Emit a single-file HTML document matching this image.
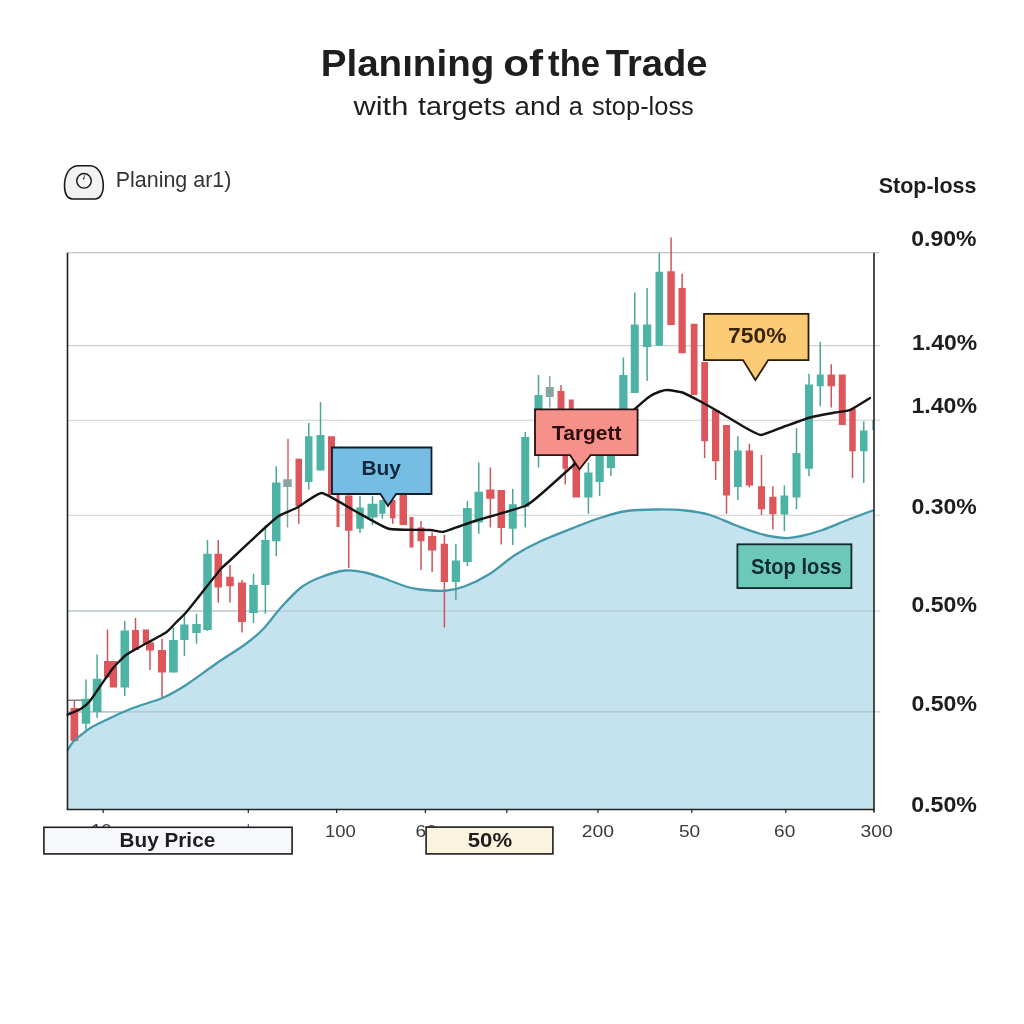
<!DOCTYPE html>
<html lang="en"><head><meta charset="utf-8"><title>Planning of the Trade</title>
<style>html,body{margin:0;padding:0;background:#fff}body{width:1024px;height:1024px;overflow:hidden;font-family:"Liberation Sans",sans-serif}svg{display:block}text{font-family:"Liberation Sans",sans-serif}</style></head><body>
<svg width="1024" height="1024" viewBox="0 0 1024 1024">
<rect width="1024" height="1024" fill="#ffffff"/>
<!-- title -->
<text y="75.7" font-size="37.3" font-weight="700" fill="#1e1e1e"><tspan x="320.71" textLength="173.55" lengthAdjust="spacingAndGlyphs">Planıning</tspan> <tspan x="503.34" textLength="39.78" lengthAdjust="spacingAndGlyphs">of</tspan> <tspan x="548.08" textLength="52.10" lengthAdjust="spacingAndGlyphs">the</tspan> <tspan x="605.73" textLength="101.84" lengthAdjust="spacingAndGlyphs">Trade</tspan></text>
<text y="114.8" font-size="26.6" fill="#1e1e1e"><tspan x="353.47" textLength="54.88" lengthAdjust="spacingAndGlyphs">with</tspan> <tspan x="417.95" textLength="88.07" lengthAdjust="spacingAndGlyphs">targets</tspan> <tspan x="514.60" textLength="46.31" lengthAdjust="spacingAndGlyphs">and</tspan> <tspan x="568.73" textLength="13.99" lengthAdjust="spacingAndGlyphs">a</tspan> <tspan x="592.10" textLength="101.75" lengthAdjust="spacingAndGlyphs">stop-loss</tspan></text>
<!-- legend -->
<path d="M72.5,199 C67,198.5 64.6,193 64.5,186 C64.4,176 68.5,166.2 78,165.7 L90.5,165.7 C99,166.5 103.3,176 103.3,186 C103.3,193 100.5,198.5 95.5,199 Z" fill="#f3f3f5" stroke="#1a1a1a" stroke-width="1.6"/>
<circle cx="84" cy="180.8" r="7.3" fill="#f7f7f8" stroke="#1a1a1a" stroke-width="1.45"/>
<line x1="83.5" y1="179" x2="84.8" y2="175.2" stroke="#1a1a1a" stroke-width="0.8"/>
<circle cx="83.6" cy="178.8" r="0.8" fill="#1a1a1a"/>
<text x="115.75" y="187.0" font-size="22.1" fill="#333333" textLength="115.60" lengthAdjust="spacingAndGlyphs">Planing ar1)</text>
<!-- gridlines -->
<line x1="67.5" y1="345.6" x2="880.0" y2="345.6" stroke="#cfcfcf" stroke-width="1.1"/>
<line x1="67.5" y1="420.2" x2="880.0" y2="420.2" stroke="#cfcfcf" stroke-width="1.1"/>
<line x1="67.5" y1="515.2" x2="880.0" y2="515.2" stroke="#cfcfcf" stroke-width="1.1"/>
<line x1="67.5" y1="611.0" x2="880.0" y2="611.0" stroke="#cfcfcf" stroke-width="1.1"/>
<line x1="67.5" y1="711.9" x2="880.0" y2="711.9" stroke="#cfcfcf" stroke-width="1.1"/>
<line x1="67.5" y1="252.7" x2="879.0" y2="252.7" stroke="#c4c4c4" stroke-width="1.2"/>
<line x1="67.7" y1="700.2" x2="82.4" y2="700.2" stroke="#555" stroke-width="1.1"/>
<!-- area -->
<path d="M67.25,750.50 C68.21,749.08 70.71,744.58 73.00,742.00 C75.29,739.42 77.83,737.50 81.00,735.00 C84.17,732.50 87.83,729.50 92.00,727.00 C96.17,724.50 99.50,723.04 106.00,720.00 C112.50,716.96 121.42,712.50 131.00,708.75 C140.58,705.00 154.33,701.46 163.50,697.50 C172.67,693.54 177.25,690.62 186.00,685.00 C194.75,679.38 206.00,670.62 216.00,663.75 C226.00,656.88 238.08,649.58 246.00,643.75 C253.92,637.92 257.67,634.79 263.50,628.75 C269.33,622.71 274.75,614.38 281.00,607.50 C287.25,600.62 294.50,592.50 301.00,587.50 C307.50,582.50 312.67,580.33 320.00,577.50 C327.33,574.67 337.50,571.33 345.00,570.50 C352.50,569.67 358.33,571.12 365.00,572.50 C371.67,573.88 378.33,576.46 385.00,578.75 C391.67,581.04 399.17,584.46 405.00,586.25 C410.83,588.04 413.33,588.75 420.00,589.50 C426.67,590.25 437.50,591.29 445.00,590.75 C452.50,590.21 457.50,589.08 465.00,586.25 C472.50,583.42 481.67,578.96 490.00,573.75 C498.33,568.54 506.67,560.38 515.00,555.00 C523.33,549.62 529.58,546.29 540.00,541.50 C550.42,536.71 567.50,530.17 577.50,526.25 C587.50,522.33 592.08,520.50 600.00,518.00 C607.92,515.50 615.67,512.67 625.00,511.25 C634.33,509.83 646.00,509.62 656.00,509.50 C666.00,509.38 676.00,509.58 685.00,510.50 C694.00,511.42 701.67,512.58 710.00,515.00 C718.33,517.42 726.67,521.88 735.00,525.00 C743.33,528.12 751.83,531.58 760.00,533.75 C768.17,535.92 777.33,537.58 784.00,538.00 C790.67,538.42 793.58,537.58 800.00,536.25 C806.42,534.92 814.58,532.71 822.50,530.00 C830.42,527.29 838.92,523.33 847.50,520.00 C856.08,516.67 869.58,511.67 874.00,510.00 L874.0,809.5 L67.5,809.5 Z" fill="#c4e3ee"/>
<line x1="67.5" y1="611.0" x2="874.0" y2="611.0" stroke="#a9c3cb" stroke-width="1.1"/>
<line x1="67.5" y1="711.9" x2="874.0" y2="711.9" stroke="#a9c3cb" stroke-width="1.1"/>
<!-- candles -->
<line x1="74.35" y1="701.00" x2="74.35" y2="742.00" stroke="#c9565c" stroke-width="1.5"/>
<rect x="70.50" y="708.00" width="7.70" height="33.00" fill="#dc565c"/>
<line x1="86.00" y1="679.50" x2="86.00" y2="732.50" stroke="#4aa797" stroke-width="1.5"/>
<rect x="81.75" y="698.75" width="8.50" height="25.00" fill="#4db3a4"/>
<line x1="97.12" y1="654.50" x2="97.12" y2="718.00" stroke="#4aa797" stroke-width="1.5"/>
<rect x="92.75" y="678.75" width="8.75" height="33.25" fill="#4db3a4"/>
<line x1="107.50" y1="629.50" x2="107.50" y2="677.50" stroke="#c9565c" stroke-width="1.5"/>
<rect x="104.00" y="661.00" width="7.00" height="16.50" fill="#dc565c"/>
<rect x="109.75" y="661.00" width="7.25" height="26.50" fill="#dc565c"/>
<line x1="124.75" y1="621.00" x2="124.75" y2="696.00" stroke="#4aa797" stroke-width="1.5"/>
<rect x="120.50" y="630.50" width="8.50" height="57.00" fill="#4db3a4"/>
<line x1="135.50" y1="618.00" x2="135.50" y2="650.00" stroke="#c9565c" stroke-width="1.5"/>
<rect x="132.00" y="630.00" width="7.00" height="20.00" fill="#dc565c"/>
<rect x="142.75" y="629.50" width="6.25" height="14.25" fill="#dc565c"/>
<line x1="150.00" y1="642.50" x2="150.00" y2="670.00" stroke="#c9565c" stroke-width="1.5"/>
<rect x="146.00" y="642.50" width="8.00" height="8.00" fill="#dc565c"/>
<line x1="162.00" y1="638.75" x2="162.00" y2="697.00" stroke="#c9565c" stroke-width="1.5"/>
<rect x="158.00" y="650.00" width="8.00" height="22.50" fill="#dc565c"/>
<line x1="173.38" y1="627.50" x2="173.38" y2="672.50" stroke="#4aa797" stroke-width="1.5"/>
<rect x="169.00" y="640.00" width="8.75" height="32.50" fill="#4db3a4"/>
<line x1="184.38" y1="613.75" x2="184.38" y2="656.00" stroke="#4aa797" stroke-width="1.5"/>
<rect x="180.25" y="624.50" width="8.25" height="15.50" fill="#4db3a4"/>
<line x1="196.50" y1="613.75" x2="196.50" y2="643.75" stroke="#4aa797" stroke-width="1.5"/>
<rect x="192.25" y="624.00" width="8.50" height="9.00" fill="#4db3a4"/>
<line x1="207.50" y1="540.00" x2="207.50" y2="631.00" stroke="#4aa797" stroke-width="1.5"/>
<rect x="203.25" y="553.75" width="8.50" height="76.25" fill="#4db3a4"/>
<line x1="218.25" y1="540.00" x2="218.25" y2="602.50" stroke="#c9565c" stroke-width="1.5"/>
<rect x="214.50" y="553.75" width="7.50" height="33.75" fill="#dc565c"/>
<line x1="230.00" y1="565.00" x2="230.00" y2="602.50" stroke="#c9565c" stroke-width="1.5"/>
<rect x="226.25" y="576.75" width="7.50" height="9.50" fill="#dc565c"/>
<line x1="242.00" y1="580.00" x2="242.00" y2="632.50" stroke="#c9565c" stroke-width="1.5"/>
<rect x="238.00" y="582.50" width="8.00" height="39.50" fill="#dc565c"/>
<line x1="253.50" y1="573.75" x2="253.50" y2="623.00" stroke="#4aa797" stroke-width="1.5"/>
<rect x="249.25" y="585.00" width="8.50" height="28.00" fill="#4db3a4"/>
<line x1="265.38" y1="525.00" x2="265.38" y2="613.75" stroke="#4aa797" stroke-width="1.5"/>
<rect x="261.25" y="540.00" width="8.25" height="45.00" fill="#4db3a4"/>
<line x1="276.25" y1="466.25" x2="276.25" y2="556.25" stroke="#4aa797" stroke-width="1.5"/>
<rect x="272.00" y="482.50" width="8.50" height="58.75" fill="#4db3a4"/>
<line x1="287.50" y1="479.25" x2="287.50" y2="527.50" stroke="#8aa3a3" stroke-width="1.5"/>
<rect x="283.25" y="479.25" width="8.50" height="7.75" fill="#8aa3a3"/>
<rect x="287.30" y="438.75" width="1.40" height="40.50" fill="#dc565c"/>
<line x1="298.75" y1="458.75" x2="298.75" y2="523.75" stroke="#c9565c" stroke-width="1.5"/>
<rect x="295.50" y="458.75" width="6.50" height="47.50" fill="#dc565c"/>
<line x1="308.75" y1="423.00" x2="308.75" y2="489.50" stroke="#4aa797" stroke-width="1.5"/>
<rect x="305.00" y="436.25" width="7.50" height="45.75" fill="#4db3a4"/>
<line x1="320.50" y1="402.00" x2="320.50" y2="470.50" stroke="#4aa797" stroke-width="1.5"/>
<rect x="316.50" y="435.00" width="8.00" height="35.50" fill="#4db3a4"/>
<rect x="328.00" y="436.25" width="7.00" height="58.75" fill="#dc565c"/>
<rect x="336.50" y="495.00" width="3.00" height="32.00" fill="#dc565c"/>
<line x1="348.75" y1="495.50" x2="348.75" y2="568.00" stroke="#c9565c" stroke-width="1.5"/>
<rect x="345.00" y="495.50" width="7.50" height="35.25" fill="#dc565c"/>
<line x1="360.00" y1="496.00" x2="360.00" y2="533.00" stroke="#4aa797" stroke-width="1.5"/>
<rect x="356.25" y="507.50" width="7.50" height="21.25" fill="#4db3a4"/>
<line x1="372.50" y1="496.00" x2="372.50" y2="525.00" stroke="#4aa797" stroke-width="1.5"/>
<rect x="367.50" y="503.75" width="10.00" height="13.75" fill="#4db3a4"/>
<line x1="382.38" y1="500.00" x2="382.38" y2="518.75" stroke="#4aa797" stroke-width="1.5"/>
<rect x="379.25" y="500.00" width="6.25" height="13.75" fill="#4db3a4"/>
<line x1="392.75" y1="500.00" x2="392.75" y2="523.75" stroke="#c9565c" stroke-width="1.5"/>
<rect x="390.00" y="500.00" width="5.50" height="18.25" fill="#dc565c"/>
<rect x="399.50" y="495.00" width="7.50" height="30.00" fill="#dc565c"/>
<rect x="409.50" y="517.00" width="4.00" height="30.50" fill="#dc565c"/>
<line x1="421.00" y1="521.00" x2="421.00" y2="570.00" stroke="#c9565c" stroke-width="1.5"/>
<rect x="417.50" y="527.50" width="7.00" height="13.75" fill="#dc565c"/>
<line x1="432.12" y1="532.50" x2="432.12" y2="572.00" stroke="#c9565c" stroke-width="1.5"/>
<rect x="428.00" y="536.00" width="8.25" height="14.50" fill="#dc565c"/>
<line x1="444.38" y1="535.00" x2="444.38" y2="627.50" stroke="#c9565c" stroke-width="1.5"/>
<rect x="440.75" y="543.75" width="7.25" height="38.25" fill="#dc565c"/>
<line x1="455.88" y1="543.75" x2="455.88" y2="600.00" stroke="#4aa797" stroke-width="1.5"/>
<rect x="451.75" y="560.50" width="8.25" height="21.50" fill="#4db3a4"/>
<line x1="467.38" y1="501.00" x2="467.38" y2="566.00" stroke="#4aa797" stroke-width="1.5"/>
<rect x="463.00" y="508.00" width="8.75" height="54.00" fill="#4db3a4"/>
<line x1="478.75" y1="462.50" x2="478.75" y2="533.75" stroke="#4aa797" stroke-width="1.5"/>
<rect x="474.50" y="491.75" width="8.50" height="30.75" fill="#4db3a4"/>
<line x1="490.38" y1="467.50" x2="490.38" y2="527.50" stroke="#c9565c" stroke-width="1.5"/>
<rect x="486.25" y="489.50" width="8.25" height="9.25" fill="#dc565c"/>
<line x1="501.25" y1="490.00" x2="501.25" y2="544.50" stroke="#c9565c" stroke-width="1.5"/>
<rect x="497.50" y="490.00" width="7.50" height="38.00" fill="#dc565c"/>
<line x1="512.75" y1="488.75" x2="512.75" y2="545.00" stroke="#4aa797" stroke-width="1.5"/>
<rect x="508.75" y="504.25" width="8.00" height="24.50" fill="#4db3a4"/>
<line x1="525.25" y1="432.00" x2="525.25" y2="527.50" stroke="#4aa797" stroke-width="1.5"/>
<rect x="521.25" y="437.00" width="8.00" height="70.00" fill="#4db3a4"/>
<line x1="538.50" y1="375.00" x2="538.50" y2="467.50" stroke="#4aa797" stroke-width="1.5"/>
<rect x="534.50" y="395.00" width="8.00" height="60.00" fill="#4db3a4"/>
<line x1="549.75" y1="376.00" x2="549.75" y2="407.50" stroke="#8aa3a3" stroke-width="1.5"/>
<rect x="545.75" y="387.00" width="8.00" height="10.00" fill="#8aa3a3"/>
<line x1="561.00" y1="385.00" x2="561.00" y2="409.00" stroke="#c9565c" stroke-width="1.5"/>
<rect x="557.50" y="391.00" width="7.00" height="18.00" fill="#dc565c"/>
<rect x="568.75" y="399.50" width="5.00" height="9.50" fill="#dc565c"/>
<line x1="565.25" y1="455.00" x2="565.25" y2="484.50" stroke="#c9565c" stroke-width="1.5"/>
<rect x="562.50" y="455.00" width="5.50" height="13.75" fill="#dc565c"/>
<rect x="572.50" y="455.00" width="7.50" height="42.50" fill="#dc565c"/>
<line x1="588.38" y1="462.50" x2="588.38" y2="513.75" stroke="#4aa797" stroke-width="1.5"/>
<rect x="584.25" y="472.50" width="8.25" height="25.00" fill="#4db3a4"/>
<line x1="599.62" y1="455.00" x2="599.62" y2="496.00" stroke="#4aa797" stroke-width="1.5"/>
<rect x="595.50" y="455.00" width="8.25" height="27.00" fill="#4db3a4"/>
<line x1="610.88" y1="455.00" x2="610.88" y2="476.00" stroke="#4aa797" stroke-width="1.5"/>
<rect x="606.75" y="455.00" width="8.25" height="13.00" fill="#4db3a4"/>
<line x1="623.38" y1="357.50" x2="623.38" y2="409.00" stroke="#4aa797" stroke-width="1.5"/>
<rect x="619.25" y="375.00" width="8.25" height="34.00" fill="#4db3a4"/>
<line x1="634.75" y1="292.50" x2="634.75" y2="393.00" stroke="#4aa797" stroke-width="1.5"/>
<rect x="630.75" y="324.50" width="8.00" height="68.50" fill="#4db3a4"/>
<line x1="647.12" y1="288.00" x2="647.12" y2="381.00" stroke="#4aa797" stroke-width="1.5"/>
<rect x="643.00" y="324.50" width="8.25" height="22.50" fill="#4db3a4"/>
<line x1="659.25" y1="253.00" x2="659.25" y2="345.75" stroke="#4aa797" stroke-width="1.5"/>
<rect x="655.50" y="271.75" width="7.50" height="74.00" fill="#4db3a4"/>
<line x1="671.05" y1="237.50" x2="671.05" y2="325.00" stroke="#c9565c" stroke-width="1.5"/>
<rect x="667.30" y="271.25" width="7.50" height="53.75" fill="#dc565c"/>
<line x1="682.12" y1="273.75" x2="682.12" y2="353.25" stroke="#c9565c" stroke-width="1.5"/>
<rect x="678.50" y="288.00" width="7.25" height="65.25" fill="#dc565c"/>
<rect x="690.75" y="323.75" width="6.75" height="71.25" fill="#dc565c"/>
<line x1="704.62" y1="362.00" x2="704.62" y2="458.00" stroke="#c9565c" stroke-width="1.5"/>
<rect x="701.25" y="362.00" width="6.75" height="79.25" fill="#dc565c"/>
<line x1="715.62" y1="410.00" x2="715.62" y2="480.00" stroke="#c9565c" stroke-width="1.5"/>
<rect x="712.00" y="410.00" width="7.25" height="51.25" fill="#dc565c"/>
<line x1="726.50" y1="425.00" x2="726.50" y2="513.75" stroke="#c9565c" stroke-width="1.5"/>
<rect x="723.00" y="425.00" width="7.00" height="70.50" fill="#dc565c"/>
<line x1="737.88" y1="436.25" x2="737.88" y2="500.00" stroke="#4aa797" stroke-width="1.5"/>
<rect x="734.00" y="450.50" width="7.75" height="36.50" fill="#4db3a4"/>
<line x1="749.38" y1="443.75" x2="749.38" y2="487.50" stroke="#c9565c" stroke-width="1.5"/>
<rect x="745.75" y="450.50" width="7.25" height="35.00" fill="#dc565c"/>
<line x1="761.50" y1="455.00" x2="761.50" y2="515.00" stroke="#c9565c" stroke-width="1.5"/>
<rect x="758.00" y="486.25" width="7.00" height="23.00" fill="#dc565c"/>
<line x1="772.88" y1="486.25" x2="772.88" y2="529.50" stroke="#c9565c" stroke-width="1.5"/>
<rect x="769.25" y="496.75" width="7.25" height="17.50" fill="#dc565c"/>
<line x1="784.38" y1="485.50" x2="784.38" y2="531.25" stroke="#4aa797" stroke-width="1.5"/>
<rect x="780.50" y="495.50" width="7.75" height="19.00" fill="#4db3a4"/>
<line x1="796.50" y1="428.00" x2="796.50" y2="509.25" stroke="#4aa797" stroke-width="1.5"/>
<rect x="792.50" y="453.00" width="8.00" height="44.50" fill="#4db3a4"/>
<line x1="809.00" y1="373.75" x2="809.00" y2="476.25" stroke="#4aa797" stroke-width="1.5"/>
<rect x="805.00" y="384.50" width="8.00" height="84.25" fill="#4db3a4"/>
<line x1="820.25" y1="342.00" x2="820.25" y2="406.25" stroke="#4aa797" stroke-width="1.5"/>
<rect x="816.75" y="374.50" width="7.00" height="11.75" fill="#4db3a4"/>
<line x1="831.25" y1="364.25" x2="831.25" y2="407.50" stroke="#c9565c" stroke-width="1.5"/>
<rect x="827.50" y="374.50" width="7.50" height="11.75" fill="#dc565c"/>
<rect x="838.75" y="374.50" width="7.00" height="50.50" fill="#dc565c"/>
<line x1="852.50" y1="408.75" x2="852.50" y2="478.00" stroke="#c9565c" stroke-width="1.5"/>
<rect x="849.25" y="408.75" width="6.50" height="42.50" fill="#dc565c"/>
<line x1="863.75" y1="421.25" x2="863.75" y2="483.00" stroke="#4aa797" stroke-width="1.5"/>
<rect x="860.00" y="430.50" width="7.50" height="20.75" fill="#4db3a4"/>
<rect x="872.30" y="420.00" width="1.70" height="10.00" fill="#4db3a4"/>
<path d="M67.25,750.50 C68.21,749.08 70.71,744.58 73.00,742.00 C75.29,739.42 77.83,737.50 81.00,735.00 C84.17,732.50 87.83,729.50 92.00,727.00 C96.17,724.50 99.50,723.04 106.00,720.00 C112.50,716.96 121.42,712.50 131.00,708.75 C140.58,705.00 154.33,701.46 163.50,697.50 C172.67,693.54 177.25,690.62 186.00,685.00 C194.75,679.38 206.00,670.62 216.00,663.75 C226.00,656.88 238.08,649.58 246.00,643.75 C253.92,637.92 257.67,634.79 263.50,628.75 C269.33,622.71 274.75,614.38 281.00,607.50 C287.25,600.62 294.50,592.50 301.00,587.50 C307.50,582.50 312.67,580.33 320.00,577.50 C327.33,574.67 337.50,571.33 345.00,570.50 C352.50,569.67 358.33,571.12 365.00,572.50 C371.67,573.88 378.33,576.46 385.00,578.75 C391.67,581.04 399.17,584.46 405.00,586.25 C410.83,588.04 413.33,588.75 420.00,589.50 C426.67,590.25 437.50,591.29 445.00,590.75 C452.50,590.21 457.50,589.08 465.00,586.25 C472.50,583.42 481.67,578.96 490.00,573.75 C498.33,568.54 506.67,560.38 515.00,555.00 C523.33,549.62 529.58,546.29 540.00,541.50 C550.42,536.71 567.50,530.17 577.50,526.25 C587.50,522.33 592.08,520.50 600.00,518.00 C607.92,515.50 615.67,512.67 625.00,511.25 C634.33,509.83 646.00,509.62 656.00,509.50 C666.00,509.38 676.00,509.58 685.00,510.50 C694.00,511.42 701.67,512.58 710.00,515.00 C718.33,517.42 726.67,521.88 735.00,525.00 C743.33,528.12 751.83,531.58 760.00,533.75 C768.17,535.92 777.33,537.58 784.00,538.00 C790.67,538.42 793.58,537.58 800.00,536.25 C806.42,534.92 814.58,532.71 822.50,530.00 C830.42,527.29 838.92,523.33 847.50,520.00 C856.08,516.67 869.58,511.67 874.00,510.00" fill="none" stroke="#4399aa" stroke-width="2.3"/>
<!-- moving average -->
<path d="M67.70,714.70 C68.70,714.25 79.35,709.76 81.00,708.75 C82.65,707.74 88.25,703.03 89.75,701.25 C91.25,699.47 99.22,687.53 101.00,685.00 C102.78,682.47 111.62,669.75 113.50,667.50 C115.38,665.25 123.94,656.59 126.00,655.00 C128.06,653.41 138.00,647.94 141.00,646.25 C144.00,644.56 163.38,634.28 166.00,632.50 C168.62,630.72 174.50,624.00 176.00,622.50 C177.50,621.00 183.75,615.12 186.00,612.50 C188.25,609.88 203.38,590.78 206.00,587.50 C208.62,584.22 219.12,570.85 221.00,568.75 C222.88,566.65 227.89,562.41 231.00,559.50 C234.11,556.59 258.92,533.26 262.50,530.00 C266.08,526.74 276.12,517.69 278.75,516.00 C281.38,514.31 294.27,509.23 297.50,507.50 C300.73,505.77 317.44,492.74 321.75,493.00 C326.06,493.26 349.98,508.32 355.00,511.00 C360.02,513.68 383.12,527.33 388.75,528.75 C394.38,530.17 425.88,529.77 430.00,530.00 C434.12,530.23 440.38,532.42 443.75,531.75 C447.12,531.08 468.91,522.93 475.00,521.00 C481.09,519.07 520.12,507.95 525.00,506.00 C529.88,504.05 536.25,498.17 540.00,495.00 C543.75,491.83 567.80,470.27 575.00,463.75 C582.20,457.23 630.38,413.06 636.00,408.00 C641.62,402.94 648.20,397.49 650.00,396.25 C651.80,395.01 658.69,391.97 660.00,391.50 C661.31,391.03 665.81,389.93 667.50,390.00 C669.19,390.07 680.06,391.66 682.50,392.50 C684.94,393.34 697.19,399.75 700.00,401.25 C702.81,402.75 716.62,410.53 720.00,412.50 C723.38,414.47 741.91,425.81 745.00,427.50 C748.09,429.19 758.25,435.09 761.25,435.00 C764.25,434.91 781.34,427.56 785.00,426.25 C788.66,424.94 806.25,418.53 810.00,417.50 C813.75,416.47 832.00,413.06 835.00,412.50 C838.00,411.94 847.38,411.09 850.00,410.00 C852.62,408.91 868.50,398.90 870.00,398.00" fill="none" stroke="#141414" stroke-width="2.4" stroke-linejoin="round" stroke-linecap="round"/>
<!-- axes -->
<line x1="67.5" y1="252.7" x2="67.5" y2="809.5" stroke="#222" stroke-width="1.6"/>
<line x1="874.0" y1="252.7" x2="874.0" y2="812.5" stroke="#222" stroke-width="1.6"/>
<line x1="66.7" y1="809.5" x2="874.8" y2="809.5" stroke="#222" stroke-width="1.6"/>
<line x1="103.2" y1="809.5" x2="103.2" y2="813.0" stroke="#222" stroke-width="1.2"/>
<line x1="248.3" y1="809.5" x2="248.3" y2="813.0" stroke="#222" stroke-width="1.2"/>
<line x1="336.6" y1="809.5" x2="336.6" y2="813.0" stroke="#222" stroke-width="1.2"/>
<line x1="425.4" y1="809.5" x2="425.4" y2="813.0" stroke="#222" stroke-width="1.2"/>
<line x1="506.8" y1="809.5" x2="506.8" y2="813.0" stroke="#222" stroke-width="1.2"/>
<line x1="598.0" y1="809.5" x2="598.0" y2="813.0" stroke="#222" stroke-width="1.2"/>
<line x1="691.8" y1="809.5" x2="691.8" y2="813.0" stroke="#222" stroke-width="1.2"/>
<line x1="785.8" y1="809.5" x2="785.8" y2="813.0" stroke="#222" stroke-width="1.2"/>
<!-- callouts -->
<path d="M332.0,447.5 H431.5 V494.0 H396.2 L388.0,505.8 L380.4,494.0 H332.0 Z" fill="#76bde3" stroke="#10202c" stroke-width="1.8" stroke-linejoin="miter"/>
<text x="361.45" y="475.4" font-size="19.5" font-weight="700" fill="#10283a" textLength="39.54" lengthAdjust="spacingAndGlyphs">Buy</text>
<path d="M535.0,409.3 H637.6 V455.2 H590.6 L579.5,469.3 L570.1,455.2 H535.0 Z" fill="#f6908a" stroke="#2a1010" stroke-width="1.8" stroke-linejoin="miter"/>
<text x="551.99" y="439.5" font-size="20.3" font-weight="700" fill="#2a0c0c" textLength="69.52" lengthAdjust="spacingAndGlyphs">Targett</text>
<path d="M704.0,313.9 H808.5 V360.1 H768.2 L755.4,380.0 L743.0,360.1 H704.0 Z" fill="#facb74" stroke="#2a1c08" stroke-width="1.8" stroke-linejoin="miter"/>
<text x="728.11" y="343.4" font-size="21.8" font-weight="700" fill="#3a2408" textLength="58.35" lengthAdjust="spacingAndGlyphs">750%</text>
<rect x="737.4" y="544.3" width="114" height="43.8" fill="#6cc9b8" stroke="#10282c" stroke-width="1.8"/>
<text x="751.12" y="573.6" font-size="21.5" font-weight="700" fill="#0e2a2e" textLength="90.71" lengthAdjust="spacingAndGlyphs">Stop loss</text>
<!-- right labels -->
<text x="878.66" y="192.8" font-size="21.3" font-weight="700" fill="#1e1e1e" textLength="97.86" lengthAdjust="spacingAndGlyphs">Stop-loss</text>
<text x="911.24" y="246.1" font-size="21.5" font-weight="700" fill="#1e1e1e" textLength="65.31" lengthAdjust="spacingAndGlyphs">0.90%</text>
<text x="911.99" y="350.4" font-size="21.5" font-weight="700" fill="#1e1e1e" textLength="65.11" lengthAdjust="spacingAndGlyphs">1.40%</text>
<text x="911.43" y="413.1" font-size="21.5" font-weight="700" fill="#1e1e1e" textLength="65.61" lengthAdjust="spacingAndGlyphs">1.40%</text>
<text x="911.50" y="514.2" font-size="21.5" font-weight="700" fill="#1e1e1e" textLength="65.29" lengthAdjust="spacingAndGlyphs">0.30%</text>
<text x="911.49" y="611.9" font-size="21.5" font-weight="700" fill="#1e1e1e" textLength="65.49" lengthAdjust="spacingAndGlyphs">0.50%</text>
<text x="911.49" y="710.9" font-size="21.5" font-weight="700" fill="#1e1e1e" textLength="65.49" lengthAdjust="spacingAndGlyphs">0.50%</text>
<text x="911.22" y="812.0" font-size="21.5" font-weight="700" fill="#1e1e1e" textLength="65.77" lengthAdjust="spacingAndGlyphs">0.50%</text>
<!-- x labels -->
<text x="90.98" y="836.0" font-size="17.2" fill="#3a3a3a" textLength="20.73" lengthAdjust="spacingAndGlyphs">10</text>
<text x="324.94" y="837.1" font-size="17.2" fill="#3a3a3a" textLength="30.80" lengthAdjust="spacingAndGlyphs">100</text>
<text x="415.54" y="837.1" font-size="17.2" fill="#3a3a3a" textLength="21.23" lengthAdjust="spacingAndGlyphs">60</text>
<text x="581.68" y="837.1" font-size="17.2" fill="#3a3a3a" textLength="32.26" lengthAdjust="spacingAndGlyphs">200</text>
<text x="678.91" y="837.1" font-size="17.2" fill="#3a3a3a" textLength="21.27" lengthAdjust="spacingAndGlyphs">50</text>
<text x="774.10" y="837.1" font-size="17.2" fill="#3a3a3a" textLength="21.22" lengthAdjust="spacingAndGlyphs">60</text>
<text x="860.62" y="837.1" font-size="17.2" fill="#3a3a3a" textLength="32.22" lengthAdjust="spacingAndGlyphs">300</text>
<line x1="248.3" y1="824" x2="248.3" y2="827" stroke="#444" stroke-width="1"/>
<!-- bottom boxes -->
<rect x="43.9" y="827.3" width="248.2" height="26.6" fill="#f6f8fb" stroke="#1d1d1d" stroke-width="1.6"/>
<text x="119.47" y="847.4" font-size="20.6" font-weight="700" fill="#1e1e1e" textLength="95.77" lengthAdjust="spacingAndGlyphs">Buy Price</text>
<rect x="426.1" y="827.1" width="126.8" height="26.8" fill="#faf3de" stroke="#1d1d1d" stroke-width="1.6"/>
<text x="467.78" y="847.4" font-size="20.8" font-weight="700" fill="#1e1e1e" textLength="44.31" lengthAdjust="spacingAndGlyphs">50%</text>
</svg></body></html>
